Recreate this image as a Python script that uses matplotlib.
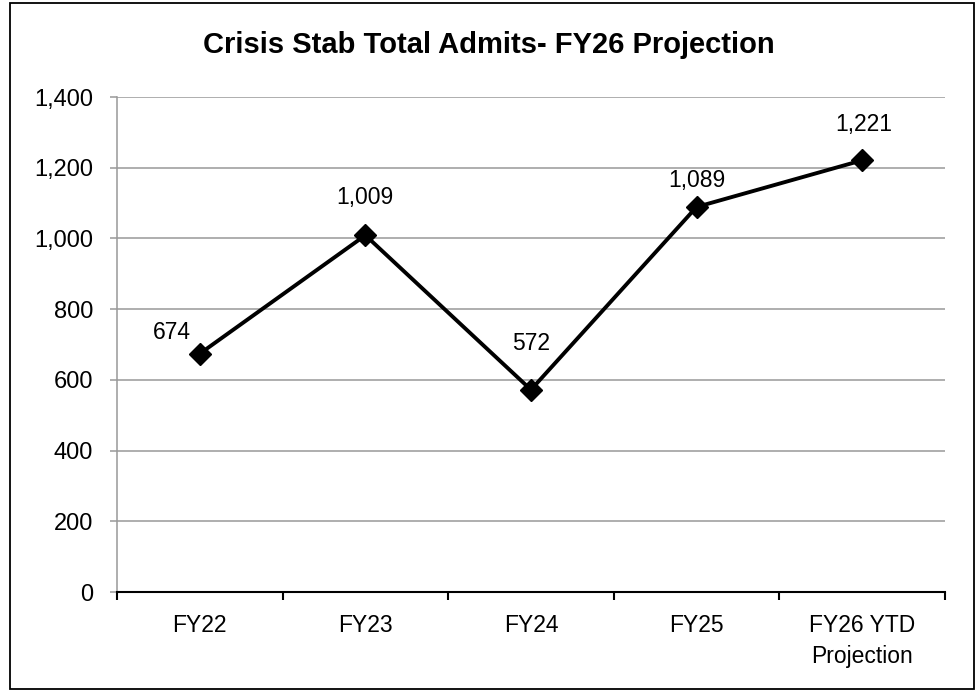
import matplotlib.pyplot as plt
from matplotlib.patches import Rectangle
from matplotlib.ticker import FuncFormatter, FixedLocator

categories = ['FY22', 'FY23', 'FY24', 'FY25', 'FY26 YTD\nProjection']
admits = [674, 1009, 572, 1089, 1221]
yticks = [0, 200, 400, 600, 800, 1000, 1200, 1400]

# label offsets in points (Excel-style placement)
label_offsets = [(-20, 15), (0, 27), (0, 33), (0, 19), (1, 26)]

plt.rcParams['font.family'] = ['Liberation Sans', 'DejaVu Sans']

fig = plt.figure(figsize=(9.78, 6.92), dpi=100)
ax = fig.add_axes([0.1196, 0.1445, 0.8466, 0.7153])

x = list(range(len(categories)))
ax.plot(x, admits, color='black', lw=2.8, marker='D', markersize=11.5, zorder=3)

for xi, v, off in zip(x, admits, label_offsets):
    ax.annotate(f'{v:,}', (xi, v), xytext=off, textcoords='offset points',
                ha='center', va='center', fontsize=16.5)

ax.set_xlim(-0.5, len(categories) - 0.5)
ax.set_ylim(0, 1400)
ax.set_yticks(yticks)
ax.yaxis.set_major_formatter(FuncFormatter(lambda v, p: f'{int(v):,}'))
ax.grid(axis='y', color='#999999', lw=1.1)
ax.set_axisbelow(True)

ax.set_xticks(x)
ax.set_xticklabels(categories, fontsize=16.5, linespacing=1.45)
ax.xaxis.set_minor_locator(FixedLocator([i - 0.5 for i in range(len(categories) + 1)]))
ax.tick_params(axis='x', which='major', length=0, pad=16)
ax.tick_params(axis='x', which='minor', length=6, width=1.5, color='black')
ax.tick_params(axis='y', length=5, width=1.1, color='#999999', labelsize=17, pad=12)

for s in ['top', 'right']:
    ax.spines[s].set_visible(False)
ax.spines['left'].set_color('#999999')
ax.spines['left'].set_linewidth(1.1)
ax.spines['bottom'].set_color('black')
ax.spines['bottom'].set_linewidth(1.5)

fig.text(0.5, 0.935, 'Crisis Stab Total Admits- FY26 Projection',
         ha='center', va='center', fontsize=21, fontweight='bold')

fig.patches.append(Rectangle((10 / 978, 3 / 692), 964 / 978, 686 / 692,
                             transform=fig.transFigure, fill=False,
                             edgecolor='black', lw=1.3))

plt.savefig('out.png', dpi=100)
